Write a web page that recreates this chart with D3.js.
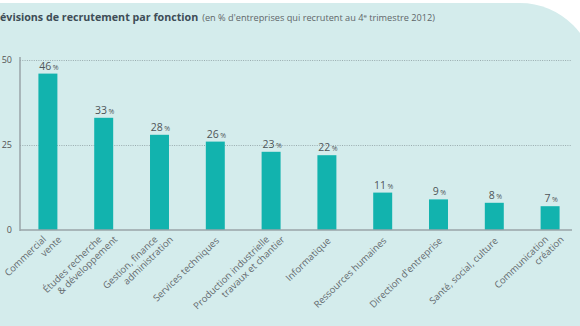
<!DOCTYPE html>
<html>
<head>
<meta charset="utf-8">
<script src="https://cdn.jsdelivr.net/npm/d3@7"></script>
<style>
  body { margin: 0; background: #fff; }
  svg { display: block; font-family: "Open Sans", sans-serif; }
</style>
</head>
<body>
<script>
// chart values
var categories = [
  ["Commercial", "vente"],
  ["Études recherche", "& développement"],
  ["Gestion, finance", "administration"],
  ["Services techniques"],
  ["Production industrielle", "travaux et chantier"],
  ["Informatique"],
  ["Ressources humaines"],
  ["Direction d'entreprise"],
  ["Santé, social, culture"],
  ["Communication", "création"]
];
var values = [46, 33, 28, 26, 23, 22, 11, 9, 8, 7];
var yTicks = [0, 25, 50];

var svgWidth = 580;
var svgHeight = 326;

var svg = d3.select("body")
            .append("svg")
            .attr("width", svgWidth)
            .attr("height", svgHeight);

// panel background with the rounded top-right corner
svg.append("path")
   .attr("d", "M-5,3 H520 A75,75 0 0 1 595,78 V330 H-5 Z")
   .attr("fill", "#d4ecec");

// title
var title = svg.append("text")
               .attr("x", 0)
               .attr("y", 21)
               .attr("fill", "#3e4d57");
title.append("tspan")
     .attr("font-weight", "bold")
     .attr("font-size", "10.7px")
     .text("évisions de recrutement par fonction");
title.append("tspan")
     .attr("font-size", "9.2px")
     .attr("fill", "#5f6669")
     .attr("dx", 4)
     .text("(en % d'entreprises qui recrutent au 4");
title.append("tspan")
     .attr("font-size", "6px")
     .attr("fill", "#5f6669")
     .attr("dy", -3)
     .text("e");
title.append("tspan")
     .attr("font-size", "9.2px")
     .attr("fill", "#5f6669")
     .attr("dy", 3)
     .text(" trimestre 2012)");

// scales
var x = d3.scaleBand()
          .domain(d3.range(values.length))
          .range([20, 578])
          .paddingInner(0.66)
          .paddingOuter(0.33);

var y = d3.scaleLinear()
          .domain([0, 50])
          .range([230, 60]);

// dotted gridlines
var grid = svg.append("g")
              .attr("transform", "translate(20,0)")
              .call(d3.axisLeft(y).tickValues([25, 50]).tickSize(-552).tickFormat(""));
grid.select(".domain").remove();
grid.selectAll("line")
    .attr("stroke", "#8a9a9e")
    .attr("stroke-dasharray", "1,1.3")
    .attr("stroke-width", 0.8);

// y axis
var yAxis = svg.append("g")
               .attr("transform", "translate(20,0)")
               .call(d3.axisLeft(y).tickValues(yTicks).tickSize(0).tickPadding(8));
yAxis.select(".domain")
     .attr("stroke", "#9aa5a8")
     .attr("stroke-width", 1.5)
     .attr("d", "M0,57V231");
yAxis.selectAll("text")
     .attr("font-size", "9px")
     .attr("fill", "#555")
     .attr("font-family", "Open Sans, sans-serif");

// bars
svg.selectAll("rect.bar")
   .data(values)
   .enter()
   .append("rect")
   .attr("class", "bar")
   .attr("x", (d, i) => x(i))
   .attr("y", d => y(d))
   .attr("width", x.bandwidth())
   .attr("height", d => y(0) - y(d))
   .attr("fill", "#12b3ae");

// baseline
svg.append("line")
   .attr("x1", 20).attr("x2", 572)
   .attr("y1", y(0)).attr("y2", y(0))
   .attr("stroke", "#9aa5a8")
   .attr("stroke-width", 1.5);

// value labels
var valueLabels = svg.selectAll("text.val")
                     .data(values)
                     .enter()
                     .append("text")
                     .attr("class", "val")
                     .attr("x", (d, i) => x(i) + x.bandwidth() / 2 + 1)
                     .attr("y", d => y(d) - 4)
                     .attr("text-anchor", "middle")
                     .attr("fill", "#4f5558");
valueLabels.append("tspan")
           .attr("font-size", "10.5px")
           .text(d => d);
valueLabels.append("tspan")
           .attr("font-size", "7px")
           .attr("dx", 1.5)
           .text("%");

// category labels, rotated
var catLabels = svg.selectAll("g.cat")
                   .data(categories)
                   .enter()
                   .append("g")
                   .attr("class", "cat")
                   .attr("transform", (d, i) => `translate(${x(i) + x.bandwidth() / 2 + 3}, 240) rotate(-44)`);

catLabels.each(function(lines) {
  var g = d3.select(this);
  lines.forEach(function(line, k) {
    var lx = lines.length === 1 ? 0 : (k === 0 ? -3 : 8);
    var ly = lines.length === 1 ? 2 : (k === 0 ? -3 : 8);
    g.append("text")
     .attr("x", lx)
     .attr("y", ly)
     .attr("text-anchor", "end")
     .attr("font-size", "9.5px")
     .attr("fill", "#63696c")
     .text(line);
  });
});
</script>
</body>
</html>
